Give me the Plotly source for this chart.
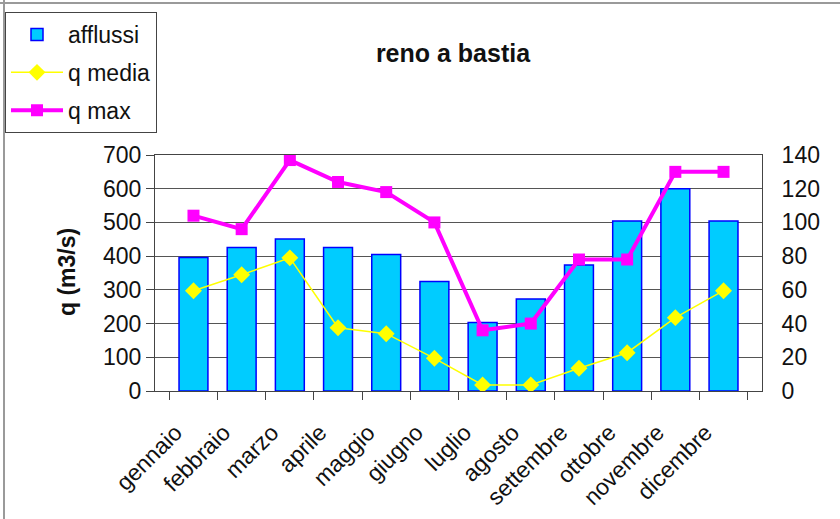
import plotly.graph_objects as go

mesi = ["gennaio", "febbraio", "marzo", "aprile", "maggio", "giugno",
        "luglio", "agosto", "settembre", "ottobre", "novembre", "dicembre"]
afflussi = [396, 426, 451, 426, 405, 325, 203, 273, 374, 504, 600, 504]
q_media = [59.5, 69, 79, 37.5, 34, 19.4, 3.6, 3.6, 13.5, 22.7, 43.5, 59.5]
q_max = [104, 96, 137, 124, 118, 100, 36, 40, 78, 78, 130, 130]

FONT = "Liberation Sans, Arial, sans-serif"
W, H = 840, 519
L, R, T, B = 155, 78, 155, 128
pw, ph = W - L - R, H - T - B

def px(x):
    return (x - L) / pw

def py(y):
    return (H - B - y) / ph

fig = go.Figure()
fig.add_trace(go.Bar(
    x=mesi, y=afflussi, name="afflussi", legendgroup="a",
    marker=dict(color="#00CCFF", line=dict(color="#0000FF", width=1.5)),
    yaxis="y"))
fig.add_trace(go.Scatter(
    x=mesi, y=q_media, name="q media", legendgroup="b", mode="lines+markers",
    line=dict(color="#FFFF00", width=1.5),
    marker=dict(symbol="diamond", size=13, color="#FFFF00"),
    yaxis="y2"))
fig.add_trace(go.Scatter(
    x=mesi, y=q_max, name="q max", legendgroup="c", mode="lines+markers",
    line=dict(color="#FF00FF", width=4),
    marker=dict(symbol="square", size=12, color="#FF00FF"),
    yaxis="y2"))

fig.update_layout(
    width=W, height=H,
    margin=dict(l=L, r=R, t=T, b=B, autoexpand=False),
    paper_bgcolor="white", plot_bgcolor="white",
    font=dict(family=FONT, size=23, color="#111"),
    bargap=0.4,
    title=dict(text="reno a bastia", x=453 / W, xref="container", xanchor="center",
               y=1 - 53 / H, yref="container", yanchor="middle",
               font=dict(family=FONT, size=25, weight="bold", color="#111")),
    showlegend=True,
    legend=dict(xref="container", yref="container", x=5 / W, y=1 - 12 / H,
                xanchor="left", yanchor="top", bordercolor="#444", borderwidth=1,
                bgcolor="white", traceorder="grouped", tracegroupgap=5,
                itemwidth=52,
                font=dict(family=FONT, size=23, color="#111")),
    xaxis=dict(type="category", tickson="boundaries", ticks="outside", ticklen=8,
               tickcolor="#444", tickangle=-45, showline=True, linecolor="#444",
               linewidth=1, mirror=True, showgrid=False,
               ticklabelshift=-18, ticklabelstandoff=18,
               tickfont=dict(family=FONT, size=23, color="#111")),
    yaxis=dict(range=[0, 700], dtick=100, ticks="outside", ticklen=8, tickcolor="#444",
               showline=True, linecolor="#444", linewidth=1, mirror=True,
               showgrid=True, gridcolor="#555", gridwidth=1, zeroline=False,
               tickfont=dict(family=FONT, size=23, color="#111")),
    yaxis2=dict(range=[0, 140], dtick=20, overlaying="y", side="right", ticks="",
                showgrid=False, zeroline=False, showline=True, linecolor="#444",
                ticklabelstandoff=14,
                tickfont=dict(family=FONT, size=23, color="#111")),
    annotations=[
        dict(text="<b>q (m3/s)</b>", xref="paper", yref="paper", x=px(67), y=py(272),
             xanchor="center", yanchor="middle", textangle=-90, showarrow=False,
             font=dict(family=FONT, size=23, color="#111")),
    ],
    shapes=[
        dict(type="line", xref="paper", yref="paper", x0=px(0), x1=px(W), y0=py(3), y1=py(3),
             line=dict(color="#9a9a9a", width=2)),
        dict(type="line", xref="paper", yref="paper", x0=px(4), x1=px(4), y0=py(0), y1=py(H),
             line=dict(color="#9a9a9a", width=2)),
    ],
)

fig.write_html("out.html", config={"displayModeBar": False},
               post_script="document.body.style.margin='0';")
